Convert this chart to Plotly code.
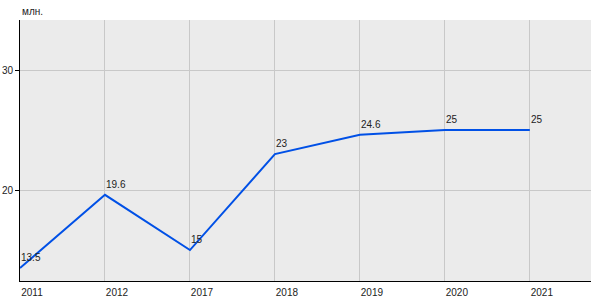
import plotly.graph_objects as go

years = ["2011", "2012", "2017", "2018", "2019", "2020", "2021"]
values = [13.5, 19.6, 15, 23, 24.6, 25, 25]
labels = ["13.5", "19.6", "15", "23", "24.6", "25", "25"]
y_ticks = [20, 30]

xs = list(range(len(years)))

fig = go.Figure()
fig.add_trace(go.Scatter(
    x=xs, y=values, mode="lines",
    line=dict(color="#0050e6", width=2),
    hoverinfo="skip",
))

label_annots = [
    dict(x=x, y=v, text=t, xref="x", yref="y", xanchor="left",
         yanchor="bottom", yshift=3, xshift=-1, showarrow=False,
         font=dict(size=10, color="#222222"))
    for x, v, t in zip(xs, values, labels)
]

fig.update_layout(
    width=600, height=300,
    margin=dict(l=20, r=9, t=20, b=19),
    paper_bgcolor="white", plot_bgcolor="#ebebeb",
    showlegend=False,
    font=dict(family="Liberation Sans, Arial", size=10, color="#222222"),
    xaxis=dict(
        tickmode="array", tickvals=xs, ticktext=years,
        range=[0, 6.72], showgrid=True, gridcolor="#c8c8c8", gridwidth=1,
        showline=True, linecolor="black", linewidth=1, ticks="",
        zeroline=False, ticklabelshift=12, ticklabelstandoff=2,
        automargin=False, tickfont=dict(size=10, color="#222222"),
    ),
    yaxis=dict(
        tickvals=y_ticks, range=[12.42, 34.17], showgrid=True,
        gridcolor="#c8c8c8", gridwidth=1, showline=True, linecolor="black",
        linewidth=1, ticks="outside", ticklen=4, tickcolor="black",
        zeroline=False, automargin=False,
        tickfont=dict(size=10, color="#222222"),
    ),
    annotations=label_annots + [dict(
        text="млн.", xref="paper", yref="paper", x=0, y=1,
        xanchor="left", yanchor="bottom", yshift=1, showarrow=False,
        font=dict(size=10, color="#222222"),
    )],
)

fig.write_html("out.html")
